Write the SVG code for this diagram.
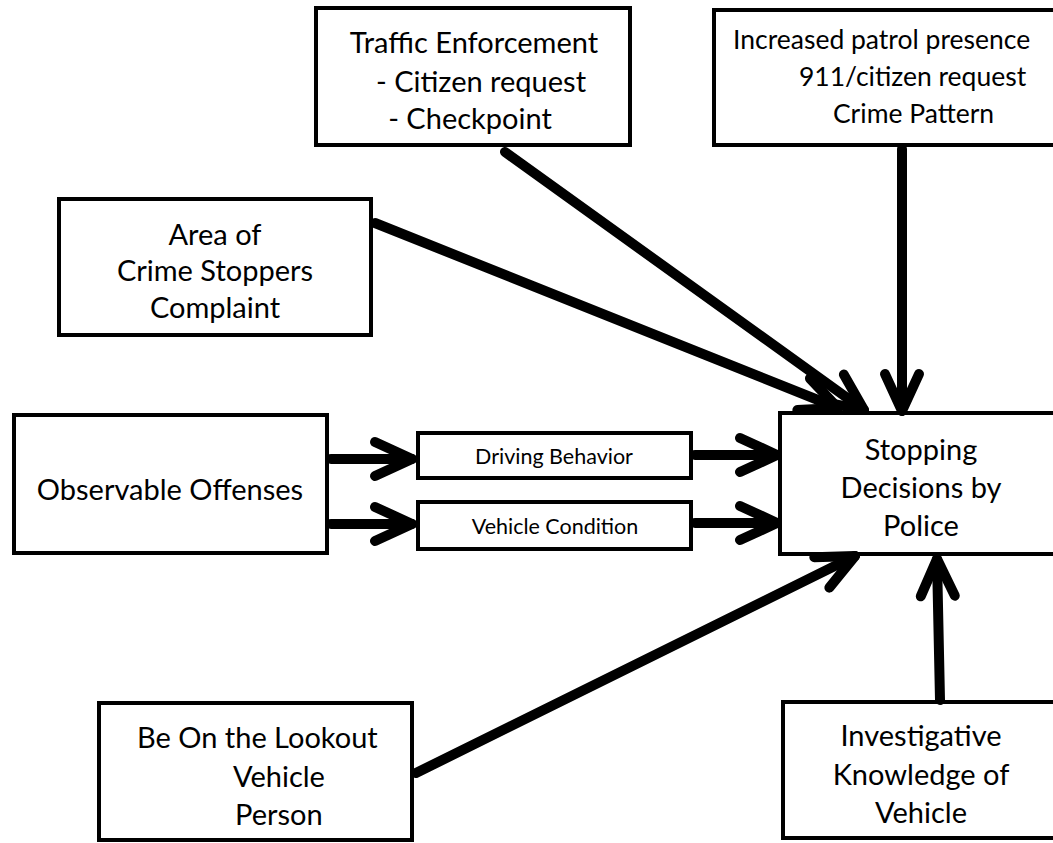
<svg xmlns="http://www.w3.org/2000/svg" width="1053" height="843" viewBox="0 0 1053 843">
<style>
.box{fill:#fff;stroke:#000;stroke-width:4}
.t{font-family:Lato,"Open Sans","Liberation Sans",sans-serif;fill:#000;font-size:29px}
.m{text-anchor:middle}
.s{font-size:26.5px}
.xs{font-size:21.5px}
.c{fill:none;stroke:#000;stroke-width:10;stroke-linecap:round}
</style>
<defs>
<marker id="ah" markerUnits="userSpaceOnUse" orient="auto" refX="0" refY="0" markerWidth="60" markerHeight="60" style="overflow:visible">
<path d="M-37,-17 L0,0 L-37,17" fill="none" stroke="#000" stroke-width="10" stroke-linecap="round" stroke-linejoin="round"/>
</marker>
</defs>
<rect width="1053" height="843" fill="#fff"/>
<g id="traffic">
<rect class="box" x="316" y="8" width="314" height="137"/>
<text class="t m" x="474" y="53">Traffic Enforcement</text>
<text class="t m" x="481" y="92">- Citizen request</text>
<text class="t m" x="470" y="129">- Checkpoint</text>
</g>
<g id="patrol">
<rect class="box" x="714" y="10" width="360" height="135"/>
<text class="t s" x="733" y="49">Increased patrol presence</text>
<text class="t s" x="799" y="86">911/citizen request</text>
<text class="t s" x="833" y="123">Crime Pattern</text>
</g>
<g id="area">
<rect class="box" x="59" y="199" width="312" height="136"/>
<text class="t m" x="215" y="245">Area of</text>
<text class="t m" x="215" y="281">Crime Stoppers</text>
<text class="t m" x="215" y="318">Complaint</text>
</g>
<g id="observable">
<rect class="box" x="14" y="415" width="313" height="138"/>
<text class="t m" x="170" y="500">Observable Offenses</text>
</g>
<g id="driving">
<rect class="box" x="418" y="433" width="273" height="45"/>
<text class="t m xs" x="554" y="464">Driving Behavior</text>
</g>
<g id="vehicle">
<rect class="box" x="418" y="502" width="273" height="47"/>
<text class="t m xs" x="555" y="534">Vehicle Condition</text>
</g>
<g id="stopping">
<rect class="box" x="780" y="413" width="300" height="141"/>
<text class="t m" x="921" y="460">Stopping</text>
<text class="t m" x="921" y="498">Decisions by</text>
<text class="t m" x="921" y="536">Police</text>
</g>
<g id="bolo">
<rect class="box" x="99" y="703" width="313" height="137"/>
<text class="t" x="137" y="748">Be On the Lookout</text>
<text class="t" x="233" y="787">Vehicle</text>
<text class="t" x="235" y="825">Person</text>
</g>
<g id="investigative">
<rect class="box" x="783" y="702" width="300" height="136"/>
<text class="t m" x="921" y="746">Investigative</text>
<text class="t m" x="921" y="785">Knowledge of</text>
<text class="t m" x="921" y="823">Vehicle</text>
</g>
<g id="connectors">
<path class="c" d="M505,152 L864,410" marker-end="url(#ah)"/>
<path class="c" d="M375,223 L838,408" marker-end="url(#ah)"/>
<path class="c" d="M902,149 L902,411" marker-end="url(#ah)"/>
<path class="c" d="M331,459 L412,459" marker-end="url(#ah)"/>
<path class="c" d="M331,524 L412,524" marker-end="url(#ah)"/>
<path class="c" d="M695,455 L777,455" marker-end="url(#ah)"/>
<path class="c" d="M695,523 L777,523" marker-end="url(#ah)"/>
<path class="c" d="M416,773 L855,556" marker-end="url(#ah)"/>
<path class="c" d="M940,700 L937,559" marker-end="url(#ah)"/>
</g>
</svg>
